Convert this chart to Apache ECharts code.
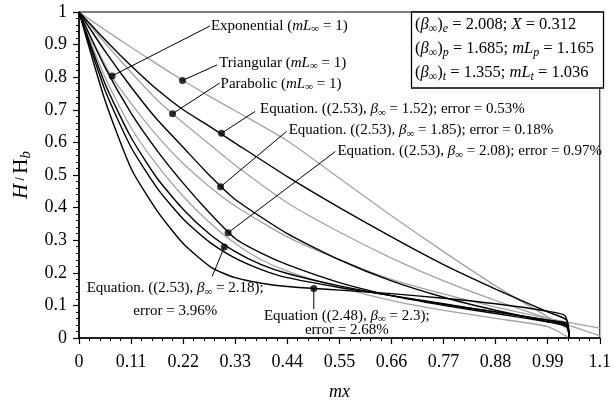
<!DOCTYPE html>
<html><head><meta charset="utf-8">
<script src="https://cdn.jsdelivr.net/npm/echarts@6/dist/echarts.min.js"></script>
<style>html,body{margin:0;padding:0;background:#fff}#c{width:614px;height:406px}</style>
</head><body><div id="c"></div>
<script>
// ---- data (mx, H/Hb) ----
const triangular = [[0,1],[0.055,0.945],[0.11,0.892],[0.165,0.84],[0.22,0.79],[0.275,0.742],[0.33,0.697],[0.44,0.605],[0.55,0.49],[0.66,0.375],[0.77,0.265],[0.88,0.16],[0.99,0.065],[1.03,0.03],[1.036,0.003]];
const eq152 = [[0,1],[0.055,0.915],[0.11,0.835],[0.165,0.762],[0.22,0.70],[0.275,0.65],[0.33,0.598],[0.44,0.495],[0.55,0.40],[0.66,0.31],[0.77,0.225],[0.88,0.15],[0.99,0.08],[1.03,0.055],[1.036,0]];
const parabolic = [[0,1],[0.055,0.905],[0.11,0.815],[0.165,0.73],[0.22,0.66],[0.275,0.595],[0.33,0.53],[0.44,0.415],[0.55,0.325],[0.66,0.245],[0.77,0.175],[0.88,0.115],[0.99,0.06],[1.1,0.007]];
const eq185 = [[0,1],[0.055,0.88],[0.11,0.77],[0.165,0.67],[0.22,0.585],[0.275,0.50],[0.33,0.425],[0.44,0.32],[0.55,0.24],[0.66,0.175],[0.77,0.125],[0.88,0.085],[0.99,0.05],[1.03,0.035],[1.036,0]];
const exponential = [[0,1],[0.035,0.895],[0.07,0.80],[0.11,0.72],[0.165,0.62],[0.22,0.535],[0.275,0.465],[0.33,0.405],[0.44,0.31],[0.55,0.24],[0.66,0.18],[0.77,0.135],[0.88,0.095],[0.99,0.06],[1.1,0.03]];
const eq208 = [[0,1],[0.055,0.83],[0.11,0.69],[0.165,0.575],[0.22,0.475],[0.275,0.385],[0.33,0.305],[0.385,0.26],[0.44,0.225],[0.55,0.17],[0.66,0.13],[0.77,0.10],[0.88,0.075],[0.99,0.05],[1.03,0.04],[1.036,0]];
const grayFour = [[0,1],[0.055,0.80],[0.11,0.645],[0.165,0.53],[0.22,0.435],[0.275,0.355],[0.33,0.29],[0.385,0.24],[0.44,0.205],[0.55,0.155],[0.66,0.115],[0.77,0.085],[0.88,0.06],[0.99,0.035],[1.036,0]];
const eq218 = [[0,1],[0.055,0.78],[0.11,0.615],[0.165,0.49],[0.22,0.395],[0.275,0.32],[0.33,0.265],[0.385,0.225],[0.44,0.198],[0.55,0.16],[0.66,0.13],[0.77,0.103],[0.88,0.08],[0.99,0.055],[1.03,0.045],[1.036,0]];
const blackX = [[0,1],[0.055,0.76],[0.11,0.585],[0.165,0.46],[0.22,0.365],[0.275,0.295],[0.33,0.245],[0.385,0.21],[0.44,0.185],[0.55,0.155],[0.66,0.13],[0.77,0.105],[0.88,0.08],[0.99,0.055],[1.03,0.04],[1.036,0]];
const eq248 = [[0,1],[0.0545,0.731],[0.11,0.52],[0.165,0.39],[0.22,0.29],[0.281,0.215],[0.33,0.185],[0.385,0.168],[0.44,0.158],[0.496,0.152],[0.55,0.147],[0.66,0.136],[0.77,0.122],[0.88,0.105],[0.99,0.082],[1.027,0.068],[1.036,0]];

// annotation dots and leader-line ends (data units)
const annDots = [[0.070,0.804],[0.2186,0.790],[0.1976,0.688],[0.301,0.628],[0.299,0.464],[0.315,0.323],[0.307,0.279],[0.496,0.152]];
const annEnds = [[0.2766,0.957],[0.292,0.838],[0.297,0.782],[0.372,0.695],[0.4386,0.634],[0.5416,0.572],[0.2814,0.189],[0.496,0.0887]];

const xMin = 0, xMax = 1.1, xStep = 0.11;
const yMin = 0, yMax = 1, yStep = 0.1;

const GRAY = '#a3a3a3', BLACK = '#000';
const FONT = '"Liberation Serif", "DejaVu Serif", serif';

const curves = [
  {d: triangular, c: GRAY}, {d: parabolic, c: GRAY}, {d: exponential, c: GRAY}, {d: grayFour, c: GRAY},
  {d: eq152, c: BLACK}, {d: eq185, c: BLACK}, {d: eq208, c: BLACK}, {d: eq218, c: BLACK}, {d: blackX, c: BLACK}, {d: eq248, c: BLACK}
];

const chart = echarts.init(document.getElementById('c'), null, {renderer: 'canvas'});

const series = curves.map(cv => ({
  type: 'line', data: cv.d, showSymbol: false, smooth: 0.2,
  lineStyle: {color: cv.c, width: cv.c === BLACK ? 1.4 : 1.3}, silent: true, z: cv.c === BLACK ? 3 : 2
}));
annDots.forEach((p, i) => {
  series.push({type: 'line', data: [p, annEnds[i]], showSymbol: false, lineStyle: {color: BLACK, width: 1}, silent: true, z: 4});
});
series.push({type: 'scatter', data: annDots, symbol: 'circle', symbolSize: 7, itemStyle: {color: BLACK}, silent: true, z: 5});

const mk = (fs) => ({
  n: {fontFamily: FONT, fontSize: fs, lineHeight: fs + 3, color: '#000'},
  i: {fontFamily: FONT, fontSize: fs, lineHeight: fs + 3, fontStyle: 'italic', color: '#000'},
  s: {fontFamily: FONT, fontSize: Math.round(fs * 0.72), lineHeight: fs + 3, verticalAlign: 'bottom', fontStyle: 'italic', color: '#000'},
  su: {fontFamily: FONT, fontSize: Math.round(fs * 0.72), lineHeight: fs + 3, verticalAlign: 'bottom', color: '#000'}
});
const rich = mk(15);
const richBox = mk(16.5);

chart.setOption({
  animation: false,
  grid: {left: 79, right: 10, top: 12, bottom: 67, show: true, borderColor: '#000', borderWidth: 1, backgroundColor: 'transparent'},
  xAxis: {
    type: 'value', min: xMin, max: xMax, interval: xStep,
    name: 'mx', nameLocation: 'middle', nameGap: 45,
    nameTextStyle: {fontFamily: FONT, fontSize: 18, fontStyle: 'italic', color: '#000'},
    axisLine: {show: true, lineStyle: {color: '#000', width: 1.6}},
    axisTick: {show: true, length: 6, lineStyle: {color: '#000', width: 1.2}},
    minorTick: {show: true, splitNumber: 5, length: 3, lineStyle: {color: '#000', width: 1}},
    splitLine: {show: false},
    axisLabel: {margin: 15, fontFamily: FONT, fontSize: 18, color: '#000', formatter: v => String(+v.toFixed(2))}
  },
  yAxis: {
    type: 'value', min: yMin, max: yMax, interval: yStep,
    name: '{i|H} / {n|H}{s|b}', nameLocation: 'middle', nameGap: 41, nameRotate: 90,
    nameTextStyle: {rich: {
      n: {fontFamily: FONT, fontSize: 21, color: '#000'},
      i: {fontFamily: FONT, fontSize: 21, fontStyle: 'italic', color: '#000'},
      s: {fontFamily: FONT, fontSize: 15, fontStyle: 'italic', color: '#000', verticalAlign: 'bottom', lineHeight: 25}
    }},
    axisLine: {show: true, lineStyle: {color: '#000', width: 1.6}},
    axisTick: {show: true, length: 6, lineStyle: {color: '#000', width: 1.2}},
    minorTick: {show: true, splitNumber: 5, length: 3, lineStyle: {color: '#000', width: 1}},
    splitLine: {show: false},
    axisLabel: {margin: 12, fontFamily: FONT, fontSize: 18, color: '#000', formatter: v => String(+v.toFixed(1))}
  },
  series: series
});

// ---- annotation texts ----
const beta = '{i|β}{su|∞}';
const labels = [
  {t: 'Exponential ({i|mL}{su|∞} = 1)', dx: 1, dy: 0, align: 'left'},
  {t: 'Triangular ({i|mL}{su|∞} = 1)', dx: 2, dy: -2, align: 'left'},
  {t: 'Parabolic ({i|mL}{su|∞} = 1)', dx: 1, dy: 1, align: 'left'},
  {t: 'Equation. ((2.53), ' + beta + ' = 1.52); error = 0.53%', dx: 5, dy: -2, align: 'left'},
  {t: 'Equation. ((2.53), ' + beta + ' = 1.85); error = 0.18%', dx: 2, dy: -1, align: 'left'},
  {t: 'Equation. ((2.53), ' + beta + ' = 2.08); error = 0.97%', dx: 2, dy: 0, align: 'left'},
  {t: 'Equation. ((2.53), ' + beta + ' = 2.18);', dx: -37, dy: 12, align: 'center'},
  {t: 'Equation ((2.48), ' + beta + ' = 2.3);', dx: 33, dy: 7, align: 'center'}
];
const extra = [
  {t: 'error = 3.96%', ref: 6, dx: -37, dy: 35},
  {t: 'error = 2.68%', ref: 7, dx: 33, dy: 21}
];
const graphics = [];
labels.forEach((l, i) => {
  const p = chart.convertToPixel({gridIndex: 0}, annEnds[i]);
  graphics.push({type: 'text', x: p[0] + l.dx, y: p[1] + l.dy, z: 10,
    style: {text: '{n|' + l.t.replace(/\{(\w+)\|([^}]*)\}/g, '}{$1|$2}{n|') + '}', rich: rich, align: l.align, verticalAlign: 'middle'}});
});
extra.forEach(e => {
  const p = chart.convertToPixel({gridIndex: 0}, annEnds[e.ref]);
  graphics.push({type: 'text', x: p[0] + e.dx, y: p[1] + e.dy, z: 10,
    style: {text: '{n|' + e.t + '}', rich: rich, align: 'center', verticalAlign: 'middle'}});
});
// parameter box (top-right)
const boxLines = [
  '{n|(}{i|β}{su|∞}{n|)}{s|e}{n| = 2.008; }{i|X}{n| = 0.312}',
  '{n|(}{i|β}{su|∞}{n|)}{s|p}{n| = 1.685; }{i|mL}{s|p}{n| = 1.165}',
  '{n|(}{i|β}{su|∞}{n|)}{s|t}{n| = 1.355; }{i|mL}{s|t}{n| = 1.036}'
];
graphics.push({type: 'rect', shape: {x: 411.5, y: 12, width: 192, height: 76}, z: 9,
  style: {fill: '#fff', stroke: '#000', lineWidth: 1.3}});
boxLines.forEach((t, k) => {
  graphics.push({type: 'text', x: 415, y: 25 + k * 24, z: 10,
    style: {text: t, rich: richBox, align: 'left', verticalAlign: 'middle'}});
});
chart.setOption({graphic: graphics});
</script>
</body></html>
